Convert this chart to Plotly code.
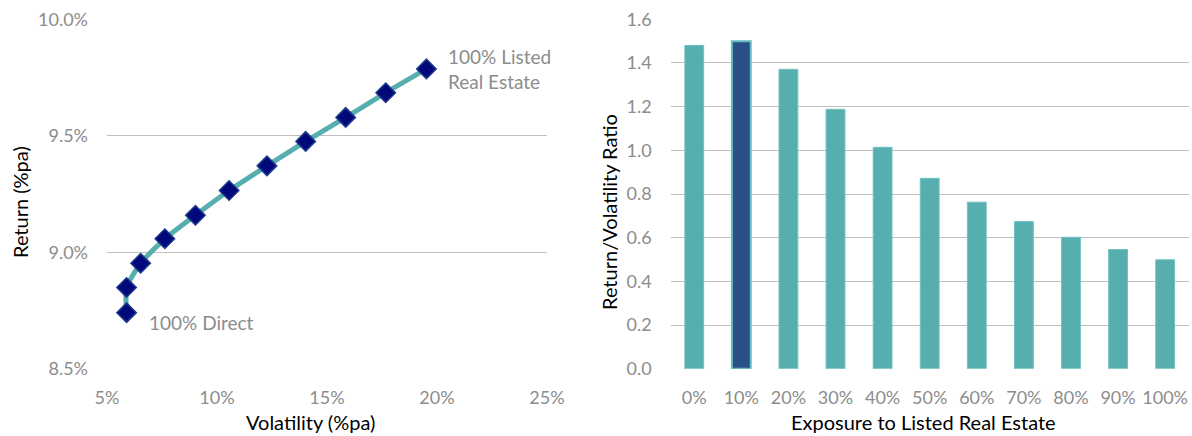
import plotly.graph_objects as go
from plotly.subplots import make_subplots

# Left chart: efficient frontier (volatility vs return, % pa)
volatility = [5.89, 5.89, 6.53, 7.63, 9.02, 10.55, 12.27, 14.03, 15.85, 17.67, 19.52]
returns = [8.741, 8.849, 8.953, 9.058, 9.159, 9.265, 9.371, 9.476, 9.579, 9.685, 9.787]

# Right chart: return/volatility ratio by exposure
exposure = ["0%", "10%", "20%", "30%", "40%", "50%", "60%", "70%", "80%", "90%", "100%"]
ratio = [1.48, 1.50, 1.371, 1.188, 1.014, 0.872, 0.763, 0.674, 0.602, 0.546, 0.499]
highlight = "10%"

TEAL = "#57AEAF"
NAVY = "#00087A"
DARKBLUE = "#2B5089"
GRID = "#BFBFBF"
TICK = "#8C8C8C"
FONT = "Lato, 'Open Sans', sans-serif"

W, H = 1192, 436

fig = make_subplots(rows=1, cols=2)

fig.add_trace(go.Scatter(
    x=volatility, y=returns, mode="lines+markers",
    line=dict(color=TEAL, width=5, shape="spline", smoothing=0.6),
    marker=dict(symbol="diamond", size=15, color=NAVY,
                line=dict(color="#1F3A8A", width=1.5)),
    showlegend=False, hoverinfo="x+y"), row=1, col=1)

fig.add_trace(go.Bar(
    x=exposure, y=ratio,
    marker=dict(color=[DARKBLUE if e == highlight else TEAL for e in exposure],
                line=dict(color=["#5FBFC0" if e == highlight else "#72C2C3" for e in exposure],
                          width=[2 if e == highlight else 1 for e in exposure])),
    showlegend=False), row=1, col=2)

y0 = 1 - 368.8 / H
y1 = 1 - 19.3 / H

axis_common = dict(showline=False, zeroline=False, ticks="", automargin=False,
                   tickfont=dict(family=FONT, size=18, color=TICK))

fig.update_xaxes(domain=[107 / W, 547 / W], range=[5, 25], dtick=5,
                 ticksuffix="%", showgrid=False, ticklabelstandoff=16,
                 **axis_common, row=1, col=1)
fig.update_yaxes(domain=[y0, y1], range=[8.5, 10.0], dtick=0.5, tickformat=".1f",
                 ticksuffix="%", showgrid=True, gridcolor=GRID, gridwidth=1,
                 ticklabelstandoff=18, **axis_common, row=1, col=1)

fig.update_xaxes(domain=[670.7 / W, 1188.7 / W], showgrid=False, ticklabelstandoff=16,
                 **axis_common, row=1, col=2)
fig.update_yaxes(domain=[y0, y1], range=[0, 1.6], dtick=0.2, tickformat=".1f",
                 showgrid=True, gridcolor=GRID, gridwidth=1,
                 ticklabelstandoff=18, **axis_common, row=1, col=2)

title_font = dict(family=FONT, size=20, color="#000000")
titles = [
    ("Volatility (%pa)", 310, 422, 0),
    ("Exposure to Listed Real Estate", 923, 422, 0),
    ("Return (%pa)", 20, 202, -90),
    ("Return/Volatility Ratio", 609, 212, -90),
]
for text, px, py, ang in titles:
    fig.add_annotation(x=px / W, y=1 - py / H, xref="paper", yref="paper",
                       text=text, showarrow=False, textangle=ang,
                       xanchor="center", yanchor="middle", font=title_font)

fig.add_annotation(x=volatility[-1], y=returns[-1], xref="x", yref="y",
                   text="100% Listed<br>Real Estate", showarrow=False,
                   xanchor="left", yanchor="middle", align="left",
                   xshift=20, yshift=0,
                   font=dict(family=FONT, size=19, color=TICK))
fig.add_annotation(x=volatility[0], y=returns[0], xref="x", yref="y",
                   text="100% Direct", showarrow=False,
                   xanchor="left", yanchor="middle", align="left",
                   xshift=20, yshift=-10,
                   font=dict(family=FONT, size=19, color=TICK))

fig.update_layout(width=W, height=H, margin=dict(l=0, r=0, t=0, b=0),
                  paper_bgcolor="white", plot_bgcolor="white",
                  bargap=0.6, font=dict(family=FONT))

fig.write_html("out.html")
